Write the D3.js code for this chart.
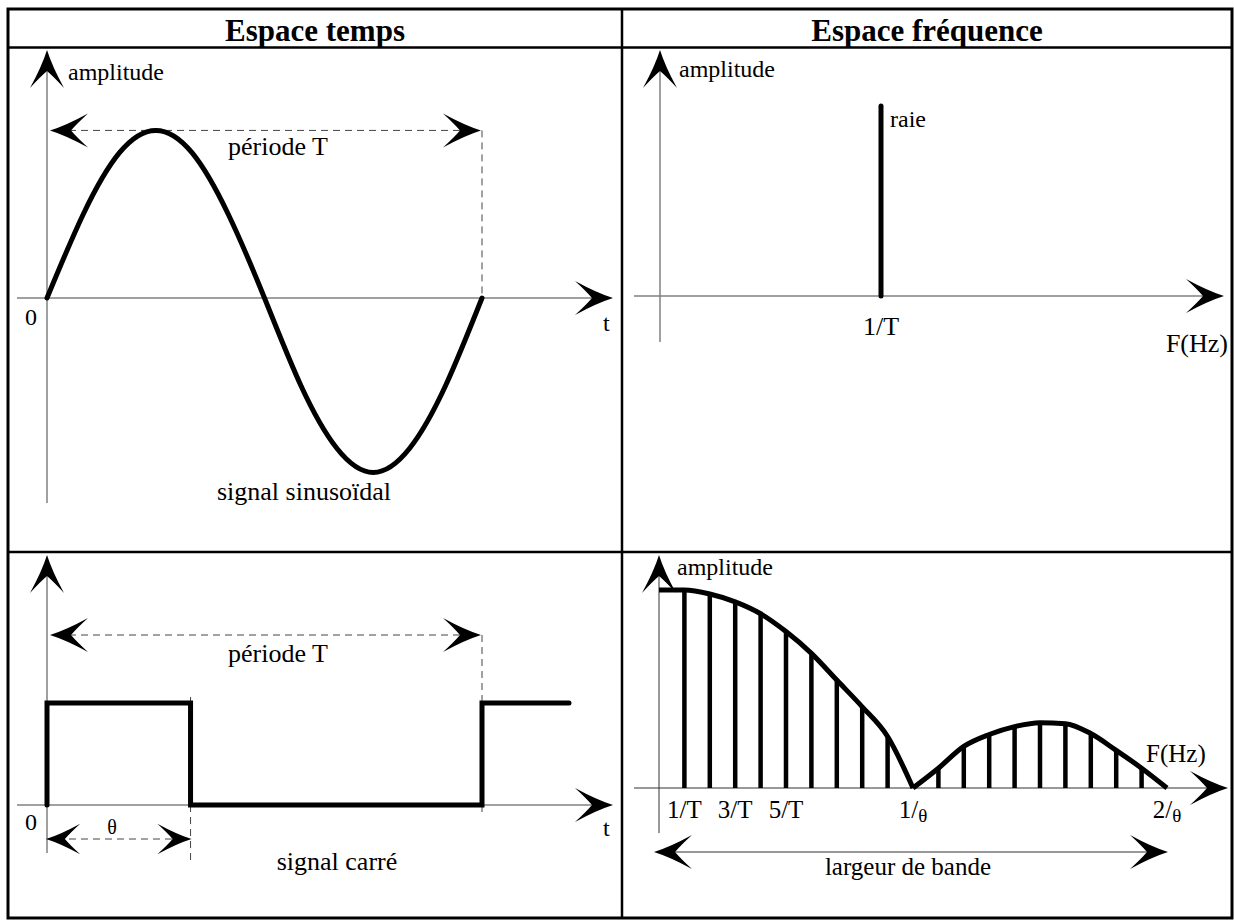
<!DOCTYPE html>
<html>
<head>
<meta charset="utf-8">
<script src="https://cdn.jsdelivr.net/npm/d3@7"></script>
<style>
  body { margin: 0; background: #fff; }
  text { font-family: "Liberation Serif", "Times New Roman", serif; fill: #000; }
</style>
</head>
<body>
<svg id="chart" width="1234" height="920" font-family="Liberation Serif, Times New Roman, serif"></svg>
<script>
// ---- data ----
const headers = ["Espace temps", "Espace fréquence"];

// one period of the sine, phase in fractions of T
const sinePhase = [0, 1/12, 2/12, 3/12, 4/12, 5/12, 6/12, 7/12, 8/12, 9/12, 10/12, 11/12, 1];
const sineValue = [0, 0.49, 0.85, 0.98, 0.85, 0.49, 0, -0.51, -0.88, -1.02, -0.88, -0.51, 0];

// square wave, theta = 0.33 T
const theta = 0.33;
const squarePhase = [0, 0, theta, theta, 1, 1, 1.2];
const squareLevel = [0, 1, 1, 0, 0, 1, 1];

// single line of the sine spectrum
const raieFreq = [1];
const raieAmp = [1];

// harmonics of the square wave (index k -> k/T)
const harmonicK = [0, 1, 2, 3, 4, 5, 6, 7, 8, 9, 10, 11, 12, 13, 14, 15, 16, 17, 18, 19, 20];
const harmonicAmp = [1, 1, 0.98, 0.94, 0.88, 0.79, 0.68, 0.545, 0.41, 0.26, 0,
                     0.10, 0.21, 0.27, 0.31, 0.33, 0.325, 0.275, 0.19, 0.10, 0];
const freqTickK = [1, 3, 5, 10, 20];
const freqTickText = ["1/T", "3/T", "5/T", "1/", "2/"];
const freqTickTheta = [false, false, false, true, true];

const svg = d3.select("#chart");

// ---- helpers ----
function arrowHead(g, x, y, angle, s) {
  s = s || 1;
  g.append("path")
    .attr("d", "M0,0 Q-16,-5 -38,-17 Q-27,-7 -21,0 Q-27,7 -38,17 Q-16,5 0,0Z")
    .attr("transform", `translate(${x},${y}) rotate(${angle}) scale(${s})`)
    .attr("fill", "#000");
}

function line(g, x1, y1, x2, y2, stroke, width, dash) {
  const l = g.append("line")
    .attr("x1", x1).attr("y1", y1).attr("x2", x2).attr("y2", y2)
    .attr("stroke", stroke).attr("stroke-width", width);
  if (dash) l.attr("stroke-dasharray", dash);
  return l;
}

function label(g, x, y, txt, size, anchor) {
  return g.append("text").attr("x", x).attr("y", y)
    .attr("font-size", size).attr("text-anchor", anchor || "start").text(txt);
}

const axisGrey = "#808080";
const dashCol = "#444";

// ---- table frame ----
const frame = svg.append("g");
frame.append("rect").attr("x", 8).attr("y", 9).attr("width", 1224).attr("height", 909)
  .attr("fill", "none").attr("stroke", "#000").attr("stroke-width", 3);
line(frame, 8, 47.5, 1232, 47.5, "#000", 2.5);
line(frame, 622, 9, 622, 918, "#000", 2.5);
line(frame, 8, 552, 1232, 552, "#000", 2.5);
headers.forEach((h, i) => {
  frame.append("text")
    .attr("x", i === 0 ? 315 : 927).attr("y", 41)
    .attr("text-anchor", "middle").attr("font-size", 31).attr("font-weight", "bold")
    .text(h);
});

// ---- top-left : sine ----
const gA = svg.append("g");
const xT = d3.scaleLinear().domain([0, 1]).range([47, 482]);
const ySin = d3.scaleLinear().domain([-1, 1]).range([469, 127]);

line(gA, xT(0), 60, xT(0), 503, axisGrey, 1.5);
arrowHead(gA, xT(0), 50, -90);
line(gA, 17, ySin(0), 600, ySin(0), axisGrey, 1.5);
arrowHead(gA, 613, ySin(0), 0);

// period arrow
const perY = ySin(0.98);
line(gA, xT(0) + 10, perY, xT(1) - 10, perY, dashCol, 1, "7,5");
line(gA, xT(1), perY, xT(1), ySin(0), dashCol, 1, "7,5");
arrowHead(gA, xT(0) + 3, perY, 180);
arrowHead(gA, xT(1) - 1, perY, 0);

gA.append("path")
  .datum(sinePhase.map((p, i) => [p, sineValue[i]]))
  .attr("fill", "none").attr("stroke", "#000").attr("stroke-width", 5)
  .attr("stroke-linecap", "round")
  .attr("d", d3.line().x(d => xT(d[0])).y(d => ySin(d[1])).curve(d3.curveNatural));

label(gA, 68, 80, "amplitude", 24);
label(gA, 228, 155, "période T", 26);
label(gA, 25, 325, "0", 24);
label(gA, 603, 331, "t", 24);
label(gA, 304, 500, "signal sinusoïdal", 26, "middle");

// ---- bottom-left : square wave ----
const gB = svg.append("g");
const ySq = d3.scaleLinear().domain([0, 1]).range([805, 703]);

line(gB, xT(0), 565, xT(0), 853, axisGrey, 1.5);
arrowHead(gB, xT(0), 555, -90);
line(gB, 17, ySq(0), 600, ySq(0), axisGrey, 1.5);
arrowHead(gB, 613, ySq(0), 0);

const perY2 = 635;
line(gB, xT(0) + 10, perY2, xT(1) - 10, perY2, dashCol, 1, "7,5");
line(gB, xT(1), perY2, xT(1), ySq(1), dashCol, 1, "7,5");
line(gB, xT(1), ySq(0), xT(1), ySq(0) + 8, dashCol, 1, "7,5");
line(gB, xT(theta), ySq(1) - 6, xT(theta), ySq(1), dashCol, 1, "7,5");
line(gB, xT(theta), ySq(0), xT(theta), 862, dashCol, 1, "7,5");
arrowHead(gB, xT(0) + 3, perY2, 180);
arrowHead(gB, xT(1) - 1, perY2, 0);

const thY = 839;
line(gB, xT(0) + 10, thY, xT(theta) - 10, thY, dashCol, 1, "7,5");
arrowHead(gB, xT(0) - 1, thY, 180, 0.9);
arrowHead(gB, xT(theta) + 1, thY, 0, 0.9);

gB.append("path")
  .datum(squarePhase.map((p, i) => [p, squareLevel[i]]))
  .attr("fill", "none").attr("stroke", "#000").attr("stroke-width", 5)
  .attr("stroke-linecap", "round").attr("stroke-linejoin", "miter")
  .attr("d", d3.line().x(d => xT(d[0])).y(d => ySq(d[1])));

label(gB, 228, 662, "période T", 26);
label(gB, 25, 830, "0", 24);
label(gB, 112, 834, "θ", 20, "middle");
label(gB, 603, 836, "t", 24);
label(gB, 337, 870, "signal carré", 26, "middle");

// ---- top-right : single line ----
const gC = svg.append("g");
const xF = d3.scaleLinear().domain([0, 1]).range([660, 881]);
const yF = d3.scaleLinear().domain([0, 1]).range([296, 106]);

line(gC, xF(0), 60, xF(0), 342, axisGrey, 1.5);
arrowHead(gC, xF(0), 50, -90);
line(gC, 634, yF(0), 1212, yF(0), axisGrey, 1.5);
arrowHead(gC, 1224, yF(0), 0);

gC.selectAll("line.raie").data(raieFreq).enter().append("line")
  .attr("class", "raie")
  .attr("x1", d => xF(d)).attr("x2", d => xF(d))
  .attr("y1", yF(0)).attr("y2", (d, i) => yF(raieAmp[i]))
  .attr("stroke", "#000").attr("stroke-width", 5).attr("stroke-linecap", "round");

label(gC, 679, 77, "amplitude", 24);
label(gC, 890, 127, "raie", 24);
label(gC, xF(1), 335, "1/T", 26, "middle");
label(gC, 1228, 352, "F(Hz)", 26, "end");

// ---- bottom-right : spectrum of the square wave ----
const gD = svg.append("g");
const xH = d3.scaleLinear().domain([0, 20]).range([659, 1167]);
const yH = d3.scaleLinear().domain([0, 1]).range([788, 590]);

line(gD, xH(0), 565, xH(0), 833, "#333", 1);
arrowHead(gD, xH(0), 555, -90);
line(gD, 634, yH(0), 1215, yH(0), "#333", 1);
arrowHead(gD, 1228, yH(0), 0);

const harm = harmonicK.map((k, i) => ({ k, a: harmonicAmp[i] }));
gD.selectAll("line.harm").data(harm.filter(d => d.k > 0 && d.a > 0)).enter().append("line")
  .attr("class", "harm")
  .attr("x1", d => xH(d.k)).attr("x2", d => xH(d.k))
  .attr("y1", yH(0)).attr("y2", d => yH(d.a))
  .attr("stroke", "#000").attr("stroke-width", 4.5);

const env = d3.line().x(d => xH(d.k)).y(d => yH(d.a)).curve(d3.curveMonotoneX);
[harm.filter(d => d.k <= 10), harm.filter(d => d.k >= 10)].forEach(lobe => {
  gD.append("path").datum(lobe)
    .attr("fill", "none").attr("stroke", "#000").attr("stroke-width", 5)
    .attr("stroke-linejoin", "round").attr("d", env);
});

freqTickK.forEach((k, i) => {
  const t = gD.append("text").attr("x", xH(k)).attr("y", 818)
    .attr("font-size", 25).attr("text-anchor", "middle");
  t.append("tspan").text(freqTickText[i]);
  if (freqTickTheta[i]) t.append("tspan").attr("font-size", 19).attr("dy", 4).text("θ");
});

label(gD, 677, 575, "amplitude", 24);
label(gD, 1146, 762, "F(Hz)", 25);

const bandY = 852;
line(gD, 665, bandY, 1158, bandY, "#333", 1);
arrowHead(gD, 654, bandY, 180);
arrowHead(gD, 1168, bandY, 0);
label(gD, 908, 875, "largeur de bande", 25, "middle");
</script>
</body>
</html>
